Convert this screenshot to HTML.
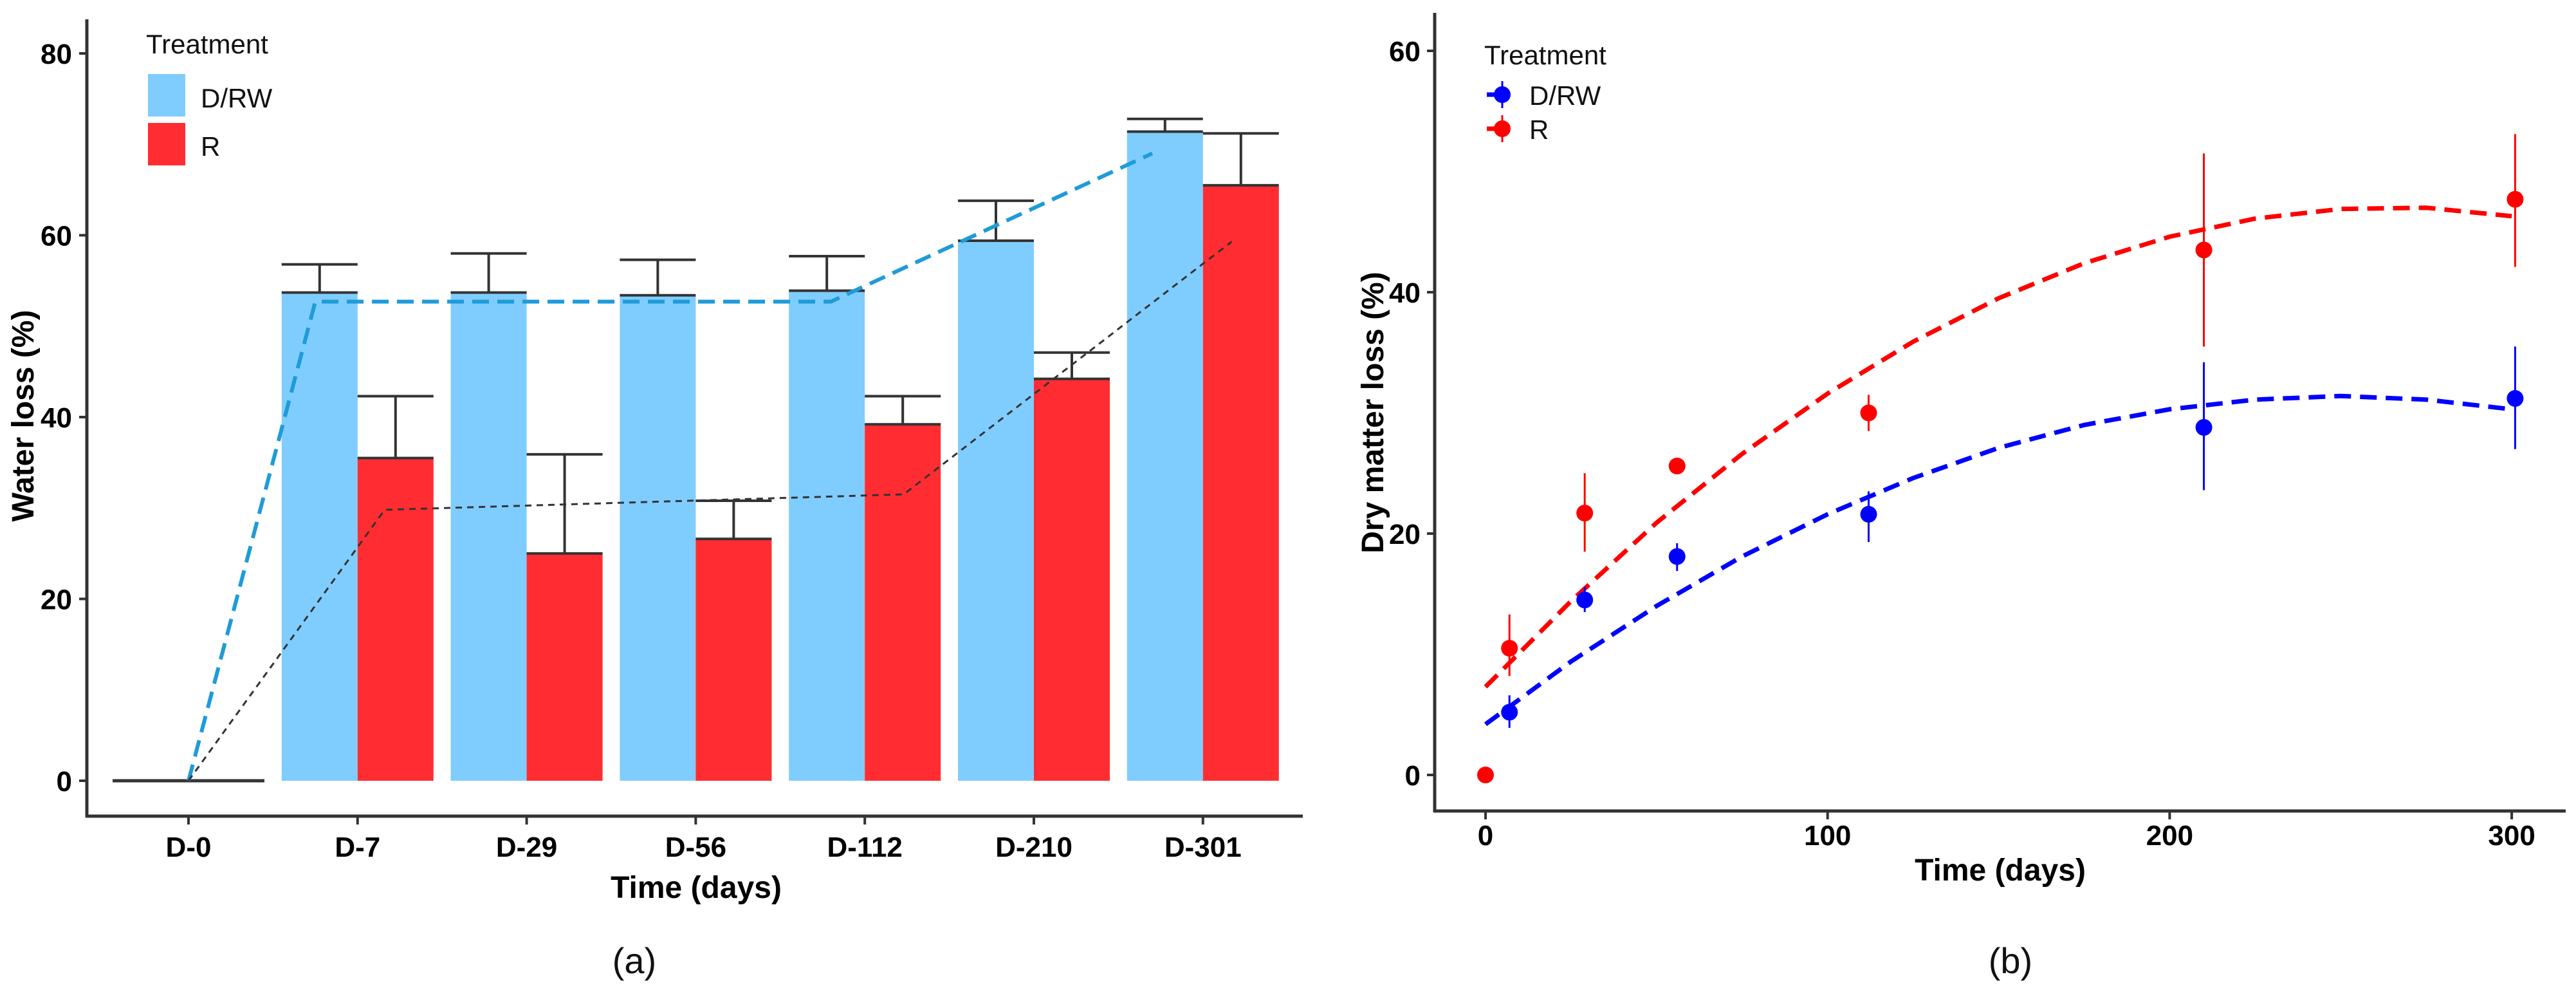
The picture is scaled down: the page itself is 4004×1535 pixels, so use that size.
<!DOCTYPE html>
<html><head><meta charset="utf-8">
<style>
html,body{margin:0;padding:0;background:#fff;}
svg{display:block;}
text{font-family:"Liberation Sans",sans-serif;}
.tick{font-weight:bold;font-size:44px;fill:#000;}
.ttl{font-weight:bold;font-size:48px;fill:#000;}
.leg{font-size:42px;fill:#111;}
.cap{font-size:56px;fill:#111;}
</style></head>
<body>
<svg id="fig" width="4004" height="1535" viewBox="0 0 4004 1535" xmlns="http://www.w3.org/2000/svg">
  <g id="pa"></g>
  <g id="pb"></g>
</svg>
<script>
// ---------- Panel A data ----------
const aCats = ["D-0","D-7","D-29","D-56","D-112","D-210","D-301"];
const aDRW = [0,53.7,53.7,53.4,53.9,59.4,71.4];
const aDRWErr = [0,56.8,58.0,57.3,57.7,63.8,72.8];
const aR = [0,35.5,25.0,26.6,39.2,44.2,65.5];
const aRErr = [0,42.3,35.9,30.8,42.3,47.1,71.2];
const aYTicks = [0,20,40,60,80];
// trend lines: [category position, value]
const aBlueLineX = [0,0.75,3.8,5.7];
const aBlueLineY = [0,52.7,52.7,69.0];
const aBlackLineX = [0,1.16,4.23,6.17];
const aBlackLineY = [0,29.8,31.5,59.3];

// ---------- Panel B data ----------
const bDays = [0,7,29,56,112,210,301];
const bDRW = [null,5.2,14.5,18.1,21.6,28.8,31.2];
const bDRWLo = [null,3.9,13.5,16.9,19.3,23.6,27.0];
const bDRWHi = [null,6.6,15.6,19.2,23.5,34.2,35.5];
const bR = [0,10.5,21.7,25.6,30.0,43.5,47.7];
const bRLo = [0,8.2,18.5,25.3,28.5,35.5,42.1];
const bRHi = [0,13.3,25.0,25.9,31.5,51.5,53.1];
const bFitX = [0,25,50,75,100,125,150,175,200,225,250,275,300];
const bFitDRW = [4.2,9.4,14.0,18.1,21.6,24.6,27.1,29.0,30.3,31.1,31.4,31.1,30.3];
const bFitR = [7.3,14.4,20.9,26.6,31.6,35.9,39.5,42.4,44.6,46.1,46.9,47.0,46.3];
const bXTicks = [0,100,200,300];
const bYTicks = [0,20,40,60];

const NS="http://www.w3.org/2000/svg";
function mk(parent,tag,attrs,txt){const e=document.createElementNS(NS,tag);for(const k in attrs)e.setAttribute(k,attrs[k]);if(txt!==undefined)e.textContent=txt;parent.appendChild(e);return e;}

// ===== Panel A =====
const pa=document.getElementById('pa');
const ax=i=>293+i*262.8;
const ay=v=>1213-v*14.125;
const bw=118;
// axes
let e=mk(pa,'line',{x1:135,y1:30,x2:135,y2:1270,stroke:'#333','stroke-width':5});

e=mk(pa,'line',{x1:133,y1:1268,x2:2025,y2:1268,stroke:'#333','stroke-width':5});

aYTicks.forEach(v=>{
  mk(pa,'line',{x1:123,y1:ay(v),x2:135,y2:ay(v),stroke:'#333','stroke-width':4});
  const t=mk(pa,'text',{x:112,y:ay(v)+16,'text-anchor':'end',class:'tick'},String(v));
  
});
aCats.forEach((c,i)=>{
  mk(pa,'line',{x1:ax(i),y1:1268,x2:ax(i),y2:1281,stroke:'#333','stroke-width':4});
  const t=mk(pa,'text',{x:ax(i),y:1331,'text-anchor':'middle',class:'tick'},c);
  
});
// bars
aCats.forEach((c,i)=>{
  if(i===0){
    const l=mk(pa,'line',{x1:ax(0)-bw,y1:ay(0),x2:ax(0)+bw,y2:ay(0),stroke:'#333','stroke-width':5});
    
    return;
  }
  [[aDRW,aDRWErr,'#7fcdff',-1,'drw'],[aR,aRErr,'#ff2d31',0,'r']].forEach(([vals,errs,col,off,nm])=>{
    const x0=ax(i)+off*bw;
    const r=mk(pa,'rect',{x:x0,y:ay(vals[i]),width:bw,height:ay(0)-ay(vals[i]),fill:col});
    
    
    const g=mk(pa,'g',{stroke:'#333','stroke-width':4,fill:'none'});
    
    
    mk(g,'line',{x1:x0,y1:ay(vals[i]),x2:x0+bw,y2:ay(vals[i])});
    mk(g,'line',{x1:x0+bw/2,y1:ay(vals[i]),x2:x0+bw/2,y2:ay(errs[i])});
    mk(g,'line',{x1:x0,y1:ay(errs[i]),x2:x0+bw,y2:ay(errs[i])});
  });
});
// trend lines
let pts=aBlueLineX.map((x,i)=>ax(x)+','+ay(aBlueLineY[i])).join(' ');
e=mk(pa,'polyline',{points:pts,fill:'none',stroke:'#1f9bd8','stroke-width':6,'stroke-dasharray':'26 13'});

pts=aBlackLineX.map((x,i)=>ax(x)+','+ay(aBlackLineY[i])).join(' ');
e=mk(pa,'polyline',{points:pts,fill:'none',stroke:'#333','stroke-width':3,'stroke-dasharray':'10 8'});

// titles
e=mk(pa,'text',{x:0,y:0,transform:'translate(52,646) rotate(-90)','text-anchor':'middle',class:'ttl'},'Water loss (%)');

e=mk(pa,'text',{x:1082,y:1395,'text-anchor':'middle',class:'ttl'},'Time (days)');

e=mk(pa,'text',{x:986,y:1512,'text-anchor':'middle',class:'cap'},'(a)');

// legend
const la=mk(pa,'g',{});

mk(la,'text',{x:227,y:83,class:'leg'},'Treatment');
e=mk(la,'rect',{x:230,y:115,width:58,height:66,fill:'#7fcdff'});

e=mk(la,'rect',{x:230,y:191,width:58,height:66,fill:'#ff2d31'});

mk(la,'text',{x:312,y:167,class:'leg'},'D/RW');
mk(la,'text',{x:312,y:242,class:'leg'},'R');

// ===== Panel B =====
const pb=document.getElementById('pb');
const bx=d=>2309+d*5.317;
const by=v=>1204-v*18.75;
e=mk(pb,'line',{x1:2230,y1:20,x2:2230,y2:1262,stroke:'#333','stroke-width':5});

e=mk(pb,'line',{x1:2228,y1:1260,x2:3988,y2:1260,stroke:'#333','stroke-width':5});

bYTicks.forEach(v=>{
  mk(pb,'line',{x1:2218,y1:by(v),x2:2230,y2:by(v),stroke:'#333','stroke-width':4});
  const t=mk(pb,'text',{x:2208,y:by(v)+16,'text-anchor':'end',class:'tick'},String(v));
  
});
bXTicks.forEach(v=>{
  mk(pb,'line',{x1:bx(v),y1:1260,x2:bx(v),y2:1273,stroke:'#333','stroke-width':4});
  const t=mk(pb,'text',{x:bx(v),y:1313,'text-anchor':'middle',class:'tick'},String(v));
  
});
// fit curves
pts=bFitX.map((x,i)=>bx(x)+','+by(bFitR[i])).join(' ');
e=mk(pb,'polyline',{points:pts,fill:'none',stroke:'#ff0000','stroke-width':7,'stroke-dasharray':'26 14'});

pts=bFitX.map((x,i)=>bx(x)+','+by(bFitDRW[i])).join(' ');
e=mk(pb,'polyline',{points:pts,fill:'none',stroke:'#0000ff','stroke-width':7,'stroke-dasharray':'26 14'});

// points
[[bDRW,bDRWLo,bDRWHi,'#0000ff','drw'],[bR,bRLo,bRHi,'#ff0000','r']].forEach(([v,lo,hi,col,nm])=>{
  bDays.forEach((d,i)=>{
    if(v[i]===null)return;
    const g=mk(pb,'g',{});
    
    
    mk(g,'line',{x1:bx(d),y1:by(lo[i]),x2:bx(d),y2:by(hi[i]),stroke:col,'stroke-width':3});
    mk(g,'circle',{cx:bx(d),cy:by(v[i]),r:13,fill:col});
  });
});
e=mk(pb,'text',{x:0,y:0,transform:'translate(2150,641) rotate(-90)','text-anchor':'middle',class:'ttl'},'Dry matter loss (%)');

e=mk(pb,'text',{x:3109,y:1368,'text-anchor':'middle',class:'ttl'},'Time (days)');

e=mk(pb,'text',{x:3125,y:1512,'text-anchor':'middle',class:'cap'},'(b)');

const lb=mk(pb,'g',{});

mk(lb,'text',{x:2307,y:100,class:'leg'},'Treatment');
[[147,'#0000ff','D/RW','drw'],[200,'#ff0000','R','r']].forEach(([y,col,lab,nm])=>{
  const g=mk(lb,'g',{});
  
  
  mk(g,'line',{x1:2311,y1:y,x2:2335,y2:y,stroke:col,'stroke-width':7});
  mk(g,'line',{x1:2335,y1:y-21,x2:2335,y2:y+21,stroke:col,'stroke-width':3});
  mk(g,'circle',{cx:2335,cy:y,r:13,fill:col});
  mk(g,'text',{x:2377,y:y+16,class:'leg'},lab);
});
</script>
</body></html>
